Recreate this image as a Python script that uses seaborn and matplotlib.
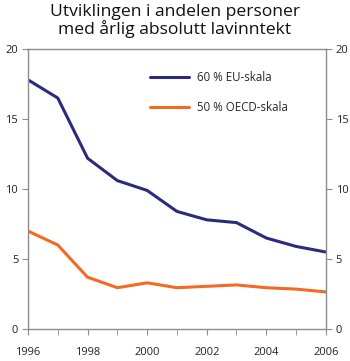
import matplotlib
matplotlib.use("Agg")
import matplotlib.pyplot as plt
import seaborn as sns
import pandas as pd

years = list(range(1996, 2007))
eu_60 = [17.8, 16.5, 12.2, 10.6, 9.9, 8.4, 7.8, 7.6, 6.5, 5.9, 5.5]
oecd_50 = [7.0, 6.0, 3.7, 2.95, 3.3, 2.95, 3.05, 3.15, 2.95, 2.85, 2.65]
series_names = ["60 % EU-skala", "50 % OECD-skala"]
colors = ["#2b2b7b", "#f26a24"]
title = "Utviklingen i andelen personer\nmed årlig absolutt lavinntekt"
yticks = [0, 5, 10, 15, 20]
xlabels = [1996, 1998, 2000, 2002, 2004, 2006]

df = pd.DataFrame({
    "year": years * 2,
    "value": eu_60 + oecd_50,
    "series": [series_names[0]] * len(years) + [series_names[1]] * len(years),
})

sns.set_style("white")
plt.rcParams["font.family"] = ["Open Sans", "DejaVu Sans"]

fig = plt.figure(figsize=(3.5, 3.61), dpi=100)
ax = fig.add_axes([0.08, 0.0886, 0.851, 0.7756])
sns.lineplot(data=df, x="year", y="value", hue="series",
             palette=dict(zip(series_names, colors)), linewidth=2.2,
             ax=ax, legend=False)

ax.set_xlim(1996, 2006)
ax.set_ylim(0, 20)
ax.set_xlabel("")
ax.set_ylabel("")
ax.set_yticks(yticks)
ax.set_xticks(years, minor=True)
ax.set_xticks(xlabels)
ax.set_xticklabels([str(x) for x in xlabels])

spine_col = "#8c8c8c"
for s in ax.spines.values():
    s.set_color(spine_col)
    s.set_linewidth(1.0)
ax.tick_params(axis="y", which="both", left=True, right=True, labelleft=True,
               labelright=True, direction="out", length=4, color=spine_col,
               labelsize=8, pad=3, labelcolor="#222222")
ax.tick_params(axis="x", which="both", bottom=True, direction="out", length=4,
               color=spine_col, labelsize=8, pad=9, labelcolor="#222222")

# legend
from matplotlib.lines import Line2D
handles = [Line2D([0], [0], color=c, lw=2.2) for c in colors]
leg = ax.legend(handles, series_names, loc="upper left", bbox_to_anchor=(0.375, 0.96),
                frameon=False, fontsize=8.3, handlelength=3.4, labelspacing=1.55,
                handletextpad=0.7)

fig.suptitle(title, fontsize=12.6, y=0.99, va="top", linespacing=1.0, color="#111111")
fig.savefig("out.png", dpi=100)
